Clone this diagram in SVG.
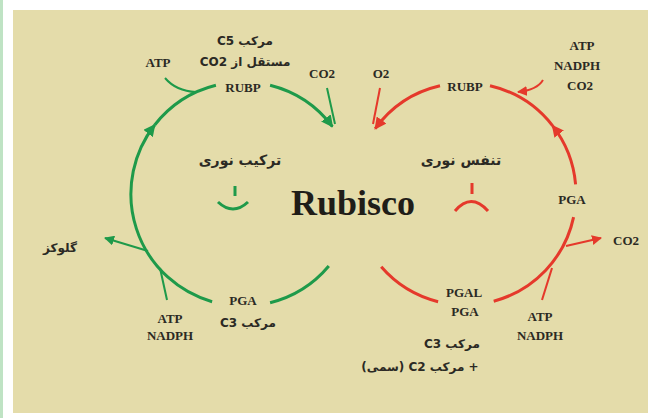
<svg xmlns="http://www.w3.org/2000/svg" width="648" height="418" viewBox="0 0 648 418">
<style>
.g{fill:none;stroke:#1E9A4A;stroke-width:3}
.gt{fill:none;stroke:#1E9A4A;stroke-width:2}
.r{fill:none;stroke:#E5392B;stroke-width:3}
.rt{fill:none;stroke:#E5392B;stroke-width:2}
.lb{font-family:"Liberation Serif",serif;font-weight:bold;font-size:13px;fill:#2b2a24;text-anchor:middle}
.ar{font-family:"DejaVu Sans",sans-serif;font-weight:bold;font-size:12px;fill:#2b2a24;text-anchor:middle;direction:rtl}
.big{font-family:"Liberation Serif",serif;font-weight:bold;font-size:36px;fill:#1f1d18;text-anchor:middle}
</style>
<defs>
<marker id="ag" viewBox="0 0 10 10" refX="9" refY="5" markerWidth="4" markerHeight="4" orient="auto" markerUnits="strokeWidth"><path d="M0,0L10,5L0,10z" fill="#1E9A4A"/></marker>
<marker id="ar" viewBox="0 0 10 10" refX="9" refY="5" markerWidth="4" markerHeight="4" orient="auto" markerUnits="strokeWidth"><path d="M0,0L10,5L0,10z" fill="#E5392B"/></marker>
<marker id="agt" viewBox="0 0 10 10" refX="9" refY="5" markerWidth="5" markerHeight="5" orient="auto" markerUnits="strokeWidth"><path d="M0,0L10,5L0,10z" fill="#1E9A4A"/></marker>
<marker id="art" viewBox="0 0 10 10" refX="9" refY="5" markerWidth="5" markerHeight="5" orient="auto" markerUnits="strokeWidth"><path d="M0,0L10,5L0,10z" fill="#E5392B"/></marker>
</defs>
<rect width="648" height="418" fill="#ffffff"/>
<rect x="0" y="0" width="3" height="418" fill="#BFE3C4"/>
<rect x="13" y="10" width="635" height="403" fill="#E4DCAA"/>

<g id="connectors">
<path class="g" d="M328.8,266 A112,112 0 0 1 270.1,302.7"/>
<path class="g" d="M212.1,301.7 A112,112 0 0 1 154.7,125" marker-end="url(#ag)"/>
<path class="g" d="M154.7,125 A112,112 0 0 1 215.9,85.3"/>
<path class="g" d="M270.1,85.3 A112,112 0 0 1 332.4,126.6" marker-end="url(#ag)"/>
<path class="gt" d="M165,78 Q176,91 196,92"/>
<path class="gt" d="M327,88 L335,124"/>
<path class="gt" d="M148,251 L105,238" marker-end="url(#agt)"/>
<path class="gt" d="M167,300 L160,268"/>

<path class="r" d="M381.2,266.8 A111,111 0 0 0 438.1,301.7"/>
<path class="r" d="M493.7,301.2 A111,111 0 0 0 573.6,217.1"/>
<path class="r" d="M575.6,184.3 A111,111 0 0 0 552.5,125.6" marker-end="url(#ar)"/>
<path class="r" d="M552.5,125.6 A111,111 0 0 0 490,85.8"/>
<path class="r" d="M440,85.8 A111,111 0 0 0 375.2,128.7" marker-end="url(#ar)"/>
<path class="rt" d="M380,88 L373,124"/>
<path class="rt" d="M543,80 Q537,90 518,92" marker-end="url(#art)"/>
<path class="rt" d="M566,246 L601,238" marker-end="url(#art)"/>
<path class="rt" d="M542,300 L552,268"/>
</g>

<g id="green-symbol">
<path class="g" d="M235,186 L235,196"/>
<path class="g" d="M218,202 Q233,216 248,202"/>
</g>
<g id="red-symbol">
<path class="r" d="M472,183 L472,194"/>
<path class="r" d="M455,211 Q471,192 488,211"/>
</g>

<g id="rubisco"><text class="big" x="353" y="215">Rubisco</text></g>

<g id="green-c6"><text class="ar" x="245" y="45">مرکب C5</text><text class="ar" x="245" y="66">مستقل از CO2</text></g>
<g id="green-atp-top"><text class="lb" x="158" y="67">ATP</text></g>
<g id="green-co2"><text class="lb" x="322" y="78">CO2</text></g>
<g id="green-rubp"><text class="lb" x="243" y="92">RUBP</text></g>
<g id="green-title"><text class="ar" x="240" y="165" style="font-size:14px">ترکیب نوری</text></g>
<g id="glucose"><text class="ar" x="60" y="252">گلوکز</text></g>
<g id="green-pga"><text class="lb" x="243" y="305">PGA</text><text class="ar" x="248" y="327">مرکب C3</text></g>
<g id="green-atp-bottom"><text class="lb" x="170" y="323">ATP</text><text class="lb" x="170" y="340">NADPH</text></g>

<g id="red-o2"><text class="lb" x="381" y="78">O2</text></g>
<g id="red-rubp"><text class="lb" x="465" y="91">RUBP</text></g>
<g id="red-atp-top"><text class="lb" x="582" y="50">ATP</text><text class="lb" x="577" y="70">NADPH</text><text class="lb" x="580" y="90">CO2</text></g>
<g id="red-title"><text class="ar" x="461" y="165" style="font-size:14px">تنفس نوری</text></g>
<g id="red-pga"><text class="lb" x="572" y="204">PGA</text></g>
<g id="red-co2-out"><text class="lb" x="613" y="245" style="text-anchor:start">CO2</text></g>
<g id="red-pgal"><text class="lb" x="464" y="297">PGAL</text><text class="lb" x="465" y="316">PGA</text></g>
<g id="red-atp-bottom"><text class="lb" x="540" y="321">ATP</text><text class="lb" x="540" y="340">NADPH</text></g>
<g id="red-c3c2"><text class="ar" x="452" y="348">مرکب C3</text><text class="ar" x="420" y="371">+ مرکب C2 (سمی)</text></g>
</svg>
